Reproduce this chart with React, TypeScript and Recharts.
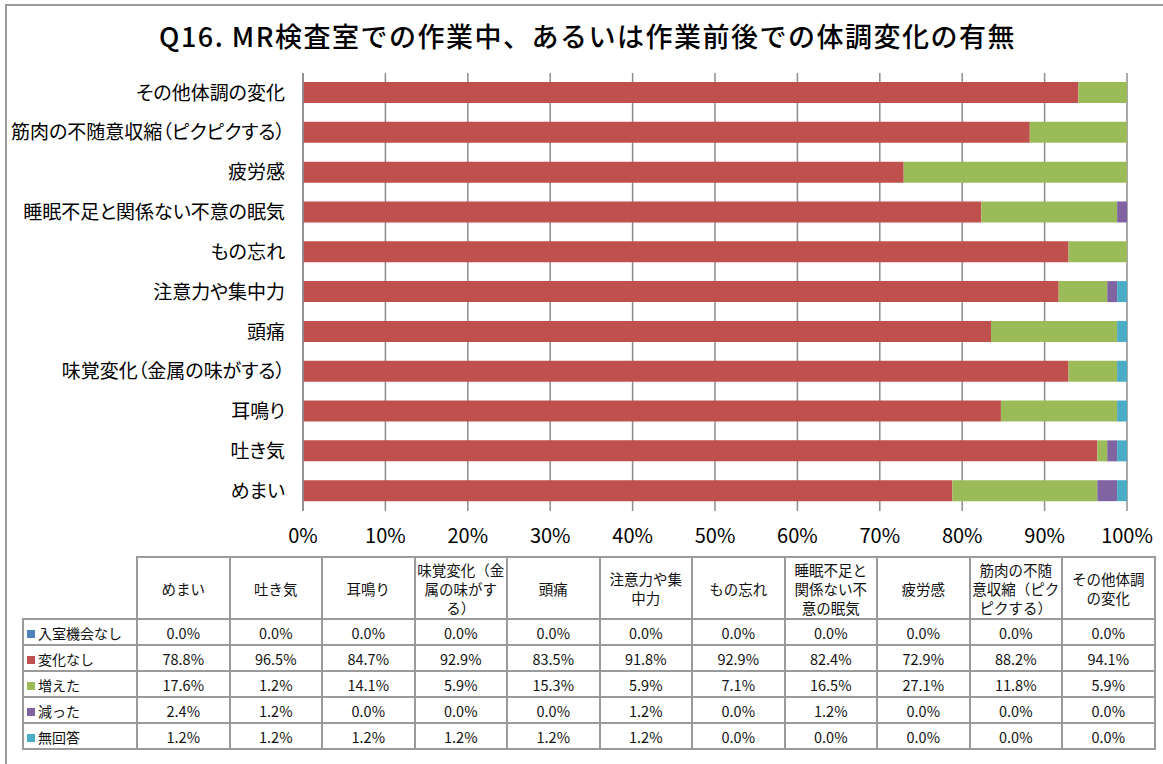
import React from 'react';
import { BarChart, Bar, XAxis, YAxis, CartesianGrid } from 'recharts';

const categories = [
  'めまい',
  '吐き気',
  '耳鳴り',
  '味覚変化（金属の味がする）',
  '頭痛',
  '注意力や集中力',
  'もの忘れ',
  '睡眠不足と関係ない不意の眠気',
  '疲労感',
  '筋肉の不随意収縮（ピクピクする）',
  'その他体調の変化',
];

// table header wrapping as in the original
const headerLabels = [
  'めまい',
  '吐き気',
  '耳鳴り',
  '味覚変化（金\n属の味がす\nる）',
  '頭痛',
  '注意力や集\n中力',
  'もの忘れ',
  '睡眠不足と\n関係ない不\n意の眠気',
  '疲労感',
  '筋肉の不随\n意収縮（ピク\nピクする）',
  'その他体調\nの変化',
];

const noOpportunity = [0, 0, 0, 0, 0, 0, 0, 0, 0, 0, 0];
const noChange = [78.8, 96.5, 84.7, 92.9, 83.5, 91.8, 92.9, 82.4, 72.9, 88.2, 94.1];
const increased = [17.6, 1.2, 14.1, 5.9, 15.3, 5.9, 7.1, 16.5, 27.1, 11.8, 5.9];
const decreased = [2.4, 1.2, 0, 0, 0, 1.2, 0, 1.2, 0, 0, 0];
const noAnswer = [1.2, 1.2, 1.2, 1.2, 1.2, 1.2, 0, 0, 0, 0, 0];

const xTicks = [0, 0.1, 0.2, 0.3, 0.4, 0.5, 0.6, 0.7, 0.8, 0.9, 1];

const series = [
  { key: 'a', label: '入室機会なし', values: noOpportunity, color: '#4F81BD' },
  { key: 'b', label: '変化なし', values: noChange, color: '#C0504D' },
  { key: 'c', label: '増えた', values: increased, color: '#9BBB59' },
  { key: 'd', label: '減った', values: decreased, color: '#8064A2' },
  { key: 'e', label: '無回答', values: noAnswer, color: '#4BACC6' },
];

const data = categories.map((name, i) => {
  const row: any = { name };
  series.forEach(s => { row[s.key] = s.values[i]; });
  return row;
});

const JP = '"Noto Sans CJK JP", "Noto Sans", sans-serif';
const border = '2px solid #9a9a9a';

export default function App() {
  return (
    <div style={{ position: 'absolute', left: 0, top: 0, width: 1163, height: 764, overflow: 'hidden', background: '#fff', fontFamily: JP }}>
      {/* outer frame */}
      <div style={{ position: 'absolute', left: 5, top: 4, width: 1200, height: 800, borderLeft: border, borderTop: border }} />

      <div style={{ position: 'absolute', left: 6, top: 18, width: 1163, height: 36, lineHeight: '36px', textAlign: 'center', fontSize: 27, fontWeight: 500, letterSpacing: 1.5, color: '#000' }}>
        Q16. MR検査室での作業中、あるいは作業前後での体調変化の有無
      </div>

      <div style={{ position: 'absolute', left: 0, top: 0, fontFeatureSettings: '"palt"' }}>
        <BarChart
          width={1163}
          height={560}
          data={data}
          layout="vertical"
          stackOffset="expand"
          barSize={21}
          margin={{ top: 73, right: 36, left: 0, bottom: 0 }}
        >
          <CartesianGrid horizontal={false} stroke="#8c8c8c" strokeWidth={1.5} />
          <XAxis
            type="number"
            domain={[0, 1]}
            ticks={xTicks}
            tickFormatter={(v: number) => `${Math.round(v * 100)}%`}
            axisLine={false}
            tickLine={false}
            tickSize={0}
            tickMargin={18}
            height={49}
            tick={{ fontSize: 20, fill: '#000', fontFamily: JP }}
            interval={0}
          />
          <YAxis
            type="category"
            dataKey="name"
            reversed
            width={303}
            axisLine={{ stroke: '#8c8c8c', strokeWidth: 1.5 }}
            tickLine={false}
            tickSize={0}
            tickMargin={18}
            interval={0}
            tick={{ fontSize: 19, fill: '#000', fontFamily: JP }}
          />
          {series.map(s => (
            <Bar key={s.key} dataKey={s.key} name={s.label} stackId="1" fill={s.color} isAnimationActive={false} />
          ))}
        </BarChart>
      </div>

      <table
        style={{
          position: 'absolute',
          left: 22,
          top: 556,
          borderCollapse: 'collapse',
          tableLayout: 'fixed',
          width: 1131,
          fontSize: 14.5,
          color: '#111',
        }}
      >
        <colgroup>
          <col style={{ width: 114 }} />
          {categories.map((c, i) => <col key={i} style={{ width: 92.5 }} />)}
        </colgroup>
        <tbody>
          <tr style={{ height: 62 }}>
            <td style={{ border: 'none', padding: 0 }} />
            {headerLabels.map((h, i) => (
              <td key={i} style={{ border, textAlign: 'center', whiteSpace: 'pre-line', lineHeight: '19px', padding: 0, fontSize: 14.5 }}>
                {h}
              </td>
            ))}
          </tr>
          {series.map(s => (
            <tr key={s.key} style={{ height: 26 }}>
              <td style={{ border, padding: '0 0 0 3px', whiteSpace: 'nowrap' }}>
                <span style={{ display: 'inline-block', width: 8, height: 8, background: s.color, marginRight: 3, verticalAlign: 'middle', position: 'relative', top: -1 }} />
                <span style={{ fontSize: 14 }}>{s.label}</span>
              </td>
              {s.values.map((v, i) => (
                <td key={i} style={{ border, textAlign: 'center', padding: 0 }}>
                  {v.toFixed(1)}%
                </td>
              ))}
            </tr>
          ))}
        </tbody>
      </table>
    </div>
  );
}
